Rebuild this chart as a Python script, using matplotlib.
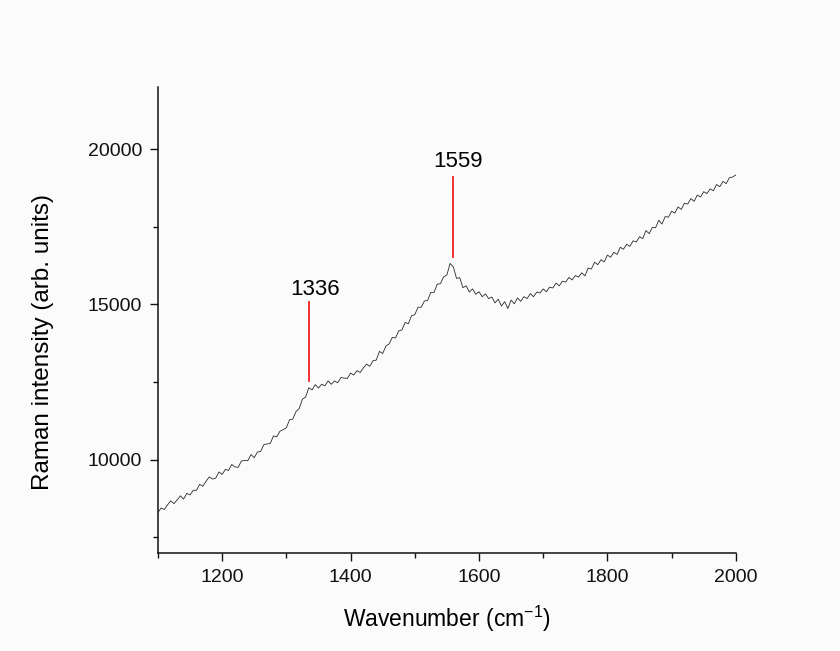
import numpy as np
import matplotlib
matplotlib.use("Agg")
import matplotlib.pyplot as plt
from matplotlib.ticker import MultipleLocator

plt.rcParams["font.family"] = ["Liberation Sans", "DejaVu Sans"]
plt.rcParams["mathtext.fontset"] = "custom"
plt.rcParams["mathtext.rm"] = "Liberation Sans"
plt.rcParams["mathtext.it"] = "Liberation Sans:italic"

# Raman spectrum, sampled every 5 cm^-1 from 1100 to 2000
wavenumber = np.arange(1100, 2001, 5)
intensity = [
    8300, 8450, 8400, 8550, 8680, 8590, 8710, 8840, 8740, 8920,
    8870, 9020, 9020, 9210, 9150, 9310, 9450, 9380, 9410, 9610,
    9530, 9690, 9660, 9850, 9770, 9760, 9960, 9980, 9970, 10170,
    10070, 10250, 10270, 10490, 10510, 10530, 10770, 10740, 10920, 10970,
    11030, 11290, 11310, 11550, 11650, 11950, 12020, 12320, 12250, 12420,
    12310, 12430, 12380, 12540, 12430, 12540, 12480, 12650, 12630, 12620,
    12790, 12730, 12870, 12810, 12960, 13080, 13010, 13190, 13210, 13490,
    13420, 13660, 13730, 13940, 13920, 14150, 14180, 14420, 14380, 14640,
    14670, 14910, 14910, 15110, 15130, 15390, 15390, 15650, 15670, 15890,
    15950, 16320, 16210, 15840, 15860, 15540, 15600, 15400, 15500, 15330,
    15410, 15250, 15340, 15190, 15240, 15050, 15170, 14950, 15090, 14870,
    15140, 15020, 15210, 15100, 15250, 15190, 15350, 15250, 15400, 15370,
    15500, 15410, 15560, 15530, 15690, 15600, 15750, 15720, 15870, 15790,
    15930, 15880, 16020, 15920, 16170, 16140, 16360, 16280, 16440, 16370,
    16590, 16520, 16680, 16610, 16840, 16780, 16940, 16870, 17050, 17010,
    17180, 17120, 17380, 17280, 17480, 17470, 17710, 17590, 17830, 17810,
    18000, 17940, 18140, 18060, 18260, 18230, 18410, 18320, 18520, 18460,
    18630, 18570, 18720, 18660, 18860, 18790, 18960, 18890, 19080, 19100,
    19170,
]

# Marked bands: position, line extent, label height
peak_positions = [1336, 1559]
peak_labels = ["1336", "1559"]
marker_low = [12530, 16540]
marker_high = [15070, 19090]
label_y = [15300, 19410]

fig = plt.figure(figsize=(8.4, 6.51), dpi=100, facecolor="#fbfbfb")
ax = fig.add_axes([0.188, 0.1505, 0.688, 0.7159])
ax.set_facecolor("#fbfbfb")

ax.plot(wavenumber, intensity, color="#2a2a2a", lw=0.6)

for pos, lab, lo, hi, ly in zip(peak_positions, peak_labels, marker_low, marker_high, label_y):
    ax.plot([pos, pos], [lo, hi], color="#ee2222", lw=1.3)
    ax.text(pos + 8, ly, lab, ha="center", va="baseline", fontsize=16, color="black")

ax.set_xlim(1100, 2000)
ax.set_ylim(7000, 22000)
ax.xaxis.set_major_locator(MultipleLocator(200))
ax.xaxis.set_minor_locator(MultipleLocator(100))
ax.yaxis.set_major_locator(MultipleLocator(5000))
ax.yaxis.set_minor_locator(MultipleLocator(2500))

for side in ("top", "right"):
    ax.spines[side].set_visible(False)
for side in ("left", "bottom"):
    ax.spines[side].set_linewidth(1.1)
    ax.spines[side].set_color("#111111")

ax.tick_params(which="major", direction="out", length=6, width=1.0, labelsize=14, pad=5.5, colors="#111111")
ax.tick_params(which="minor", direction="out", length=3.5, width=1.0, colors="#111111")

ax.set_xlabel(r"Wavenumber (cm$^{-1}$)", fontsize=16.5)
ax.set_ylabel("Raman intensity (arb. units)", fontsize=17.5)
ax.xaxis.set_label_coords(0.5, -0.108)
ax.yaxis.set_label_coords(-0.18, 0.452)

fig.savefig("out.png", dpi=100, facecolor=fig.get_facecolor())
